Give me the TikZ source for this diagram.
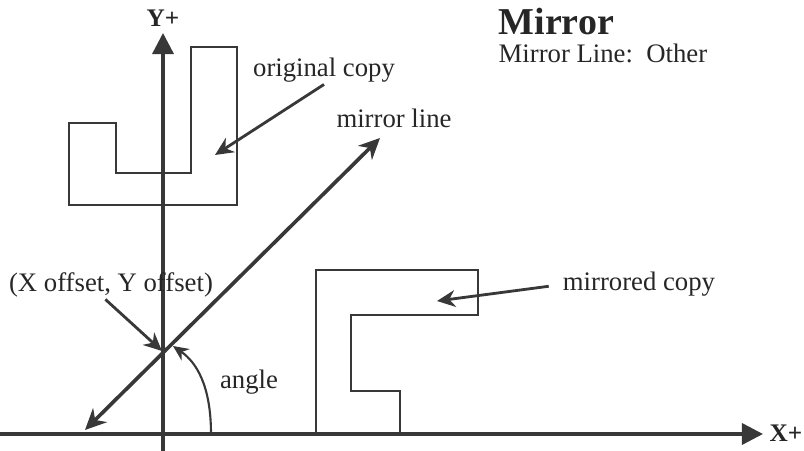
\documentclass[tikz,border=0pt]{standalone}
\usepackage{fontspec}
\setmainfont{Liberation Serif}
\usetikzlibrary{arrows.meta}

\begin{document}
\begin{tikzpicture}[
  x=0.025cm, y=-0.025cm,
  font=\fontsize{19}{22}\selectfont,
  lbl/.style={text=black!85, inner sep=1pt},
  axisline/.style={draw=black!78, line width=2.4pt, -{Triangle[length=15pt, width=15pt]}},
  outline/.style={draw=black!78, line width=1.4pt, line join=miter},
  mline/.style={draw=black!78, line width=2.6pt, {Stealth[length=15pt, width=14pt]}-{Stealth[length=15pt, width=14pt]}},
  ptr/.style={draw=black!78, line width=2pt, -{Stealth[length=13pt, width=12pt]}},
  arcptr/.style={draw=black!78, line width=1.5pt, -{Stealth[length=11pt, width=10pt]}}
]
\useasboundingbox (0,0) rectangle (804,451);
\coordinate (ybot)  at (163,451);
\coordinate (ytop)  at (163,33);
\coordinate (xleft) at (0,434);
\coordinate (xtip)  at (763,434);
\coordinate (mlow)  at (85,430);
\coordinate (mhigh) at (380,138);
\coordinate (pivot) at (162,351);
\coordinate (origtip) at (215,155);
\coordinate (mirrtip) at (437,301);
\coordinate (arcstart) at (211,434);
\coordinate (arctip) at (173,346);
\draw[axisline] (ybot) -- (ytop);
\draw[axisline] (xleft) -- (xtip);
\node[lbl, font=\bfseries\fontsize{18}{20}\selectfont, anchor=base] (yplus) at (163,27) {Y+};
\node[lbl, font=\bfseries\fontsize{18}{20}\selectfont, anchor=base west] (xplus) at (768,442) {X+};
\draw[outline] (69,123) -- (116,123) -- (116,173) -- (191,173) -- (191,47)
  -- (237,47) -- (237,205) -- (69,205) -- cycle;
\draw[outline] (316,434) -- (316,270) -- (478,270) -- (478,315) -- (351,315)
  -- (351,391) -- (400,391) -- (400,434);
\draw[mline] (mlow) -- (mhigh);
\node[lbl, font=\bfseries\fontsize{27}{30}\selectfont, anchor=base west] (title) at (497,35) {Mirror};
\node[lbl, anchor=base west] (subtitle) at (497,63) {Mirror Line:\ \ Other};
\node[lbl, anchor=base] (orig) at (324,77) {original copy};
\node[lbl, anchor=base] (mlabel) at (394,128) {mirror line};
\node[lbl, anchor=base] (offset) at (111,292) {(X offset, Y offset)};
\node[lbl, anchor=base] (angle) at (249,389) {angle};
\node[lbl, anchor=base] (mirr) at (639,291) {mirrored copy};
\draw[ptr] (orig.south) -- (origtip);
\draw[ptr, shorten <=9pt] (mirr.west) -- (mirrtip);
\draw[ptr] ([xshift=-4pt]offset.south) -- (pivot);
\draw[arcptr] (arcstart) .. controls (211,385) and (196,362) .. (arctip);
\end{tikzpicture}
\end{document}
